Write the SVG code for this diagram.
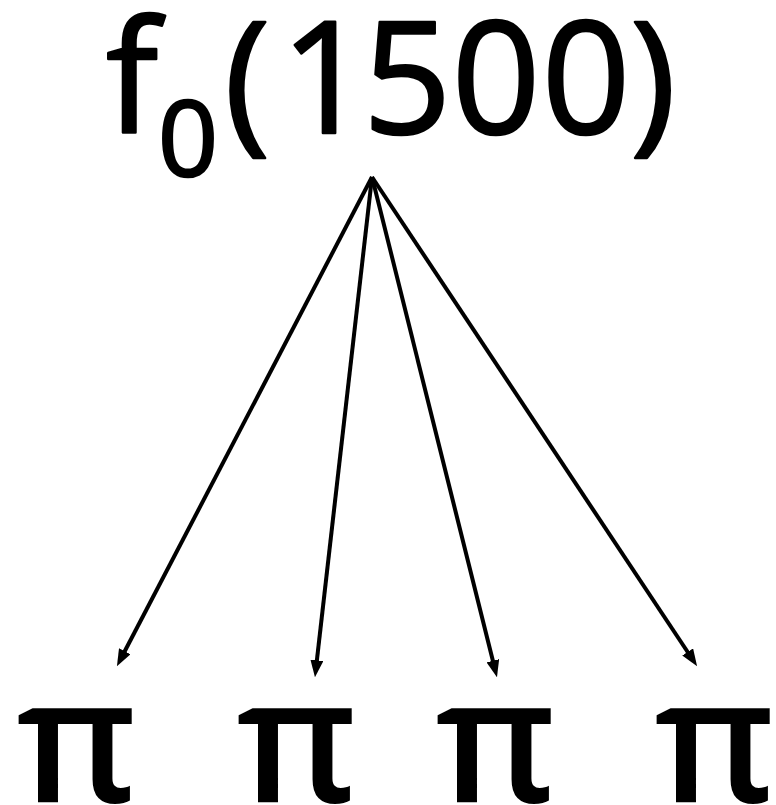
<svg xmlns="http://www.w3.org/2000/svg" width="776" height="805" viewBox="0 0 776 805">
<style>
.t{font-family:"Open Sans","Noto Sans",sans-serif;fill:#000;stroke:#000;stroke-width:2.5;stroke-linejoin:round;text-anchor:middle}
.p{font-family:"Open Sans","Noto Sans",sans-serif;font-weight:600;fill:#000;text-anchor:middle;font-size:174px}
.c{stroke:#000;stroke-width:4;fill:none;marker-end:url(#ah)}
</style>
<defs>
<marker id="ah" markerUnits="userSpaceOnUse" viewBox="0 0 17 13" refX="6" refY="6.5" markerWidth="17" markerHeight="13" orient="auto">
<path d="M0,0 L17,6.5 L0,13 z" fill="#000"/>
</marker>
</defs>
<g id="root">
<text class="t" y="133" font-size="155"><tspan x="132">f</tspan></text>
<text class="t" x="188" y="176" font-size="105">0</text>
<text class="t" y="133" font-size="155"><tspan x="247">(</tspan><tspan x="325">1</tspan><tspan x="407">5</tspan><tspan x="496">0</tspan><tspan x="586">0</tspan><tspan x="653">)</tspan></text>
</g>
<g id="pi1"><text class="p" x="77" y="802">π</text></g>
<g id="pi2"><text class="p" x="297" y="802">π</text></g>
<g id="pi3"><text class="p" x="496" y="802">π</text></g>
<g id="pi4"><text class="p" x="715" y="802">π</text></g>
<g id="connectors">
<line class="c" x1="372" y1="177" x2="122" y2="656.5"/>
<line class="c" x1="372" y1="177" x2="316.2" y2="666.2"/>
<line class="c" x1="372" y1="177" x2="494.3" y2="666.5"/>
<line class="c" x1="372" y1="177" x2="691" y2="657"/>
</g>
</svg>
